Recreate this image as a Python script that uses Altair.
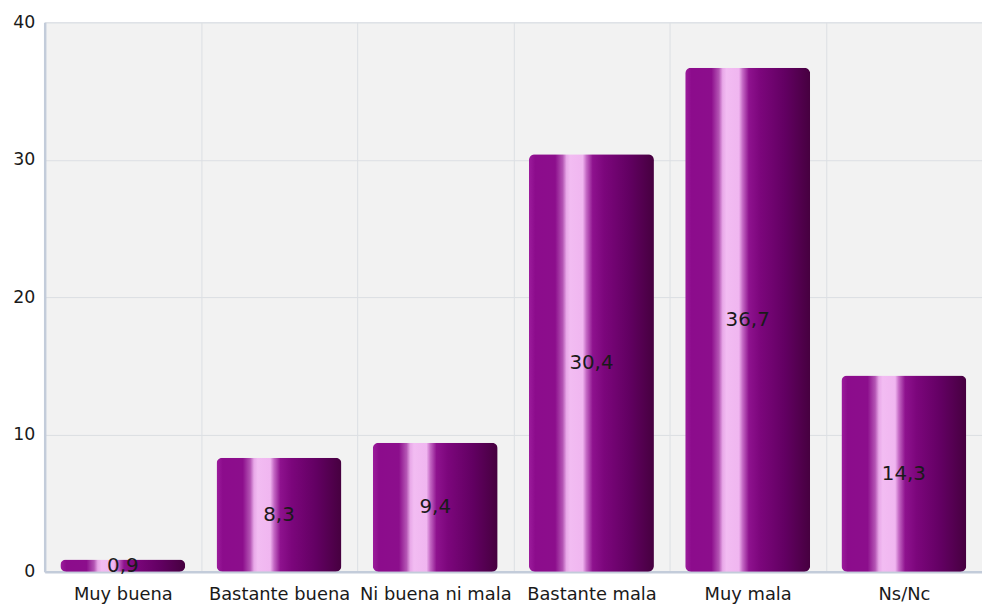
import altair as alt
import pandas as pd

categories = ["Muy buena", "Bastante buena", "Ni buena ni mala", "Bastante mala", "Muy mala", "Ns/Nc"]
values = [0.9, 8.3, 9.4, 30.4, 36.7, 14.3]
y_ticks = [0, 10, 20, 30, 40]

labels = [f"{v:.1f}".replace(".", ",") for v in values]
df = pd.DataFrame({"cat": categories, "val": values, "label": labels})

FONT = "DejaVu Sans"

stops = [
    (0.0, "#9c1c9c"),
    (0.05, "#8c0c8c"),
    (0.21, "#8c0e8c"),
    (0.27, "#b455b4"),
    (0.30, "#e8a8e8"),
    (0.33, "#f2bcf2"),
    (0.43, "#f0b6f0"),
    (0.46, "#c468c4"),
    (0.51, "#8e128e"),
    (0.60, "#7c067c"),
    (0.80, "#620062"),
    (1.0, "#46003f"),
]
grad = alt.LinearGradient(
    gradient="linear",
    stops=[alt.GradientStop(offset=o, color=c) for o, c in stops],
    x1=0, x2=1, y1=0, y2=0,
)

x_enc = alt.X(
    "cat:N",
    sort=categories,
    title=None,
    scale=alt.Scale(paddingInner=0, paddingOuter=0),
    axis=alt.Axis(
        labelAngle=0,
        tickBand="extent",
        grid=True,
        gridColor="#dcdfe3",
        gridWidth=1,
        ticks=False,
        labelPadding=14,
        labelFontSize=18,
        labelFont=FONT,
        labelColor="#1a1a1a",
        domainColor="#c3ccda",
        domainWidth=2.5,
    ),
)

y_scale = alt.Scale(domain=[0, 40], nice=False)

bars = alt.Chart(df).mark_bar(
    color=grad, cornerRadius=6, width=alt.RelativeBandSize(0.8)
).encode(
    x=x_enc,
    y=alt.Y(
        "val:Q",
        title=None,
        scale=y_scale,
        axis=alt.Axis(
            values=y_ticks,
            grid=True,
            gridColor="#dcdfe3",
            gridWidth=1,
            ticks=False,
            labelPadding=10,
            labelFontSize=17.5,
            labelFont=FONT,
            labelColor="#1a1a1a",
            domainColor="#c3ccda",
            domainWidth=2.5,
        ),
    ),
)

text = alt.Chart(df).transform_calculate(mid="datum.val / 2").mark_text(
    fontSize=20, font=FONT, color="#1a1a1a", baseline="middle", align="center"
).encode(
    x=alt.X("cat:N", sort=categories),
    y=alt.Y("mid:Q", scale=y_scale),
    text="label:N",
)

chart = (
    alt.layer(bars, text)
    .properties(
        width=945,
        height=554,
        autosize=alt.AutoSizeParams(type="none"),
        padding={"left": 37, "top": 12, "right": 0, "bottom": 32},
        background="white",
    )
    .configure_view(fill="#f2f2f2", stroke="#dde2ea", strokeWidth=1)
)

chart.save("out.html", embed_options={"renderer": "svg", "actions": False})
